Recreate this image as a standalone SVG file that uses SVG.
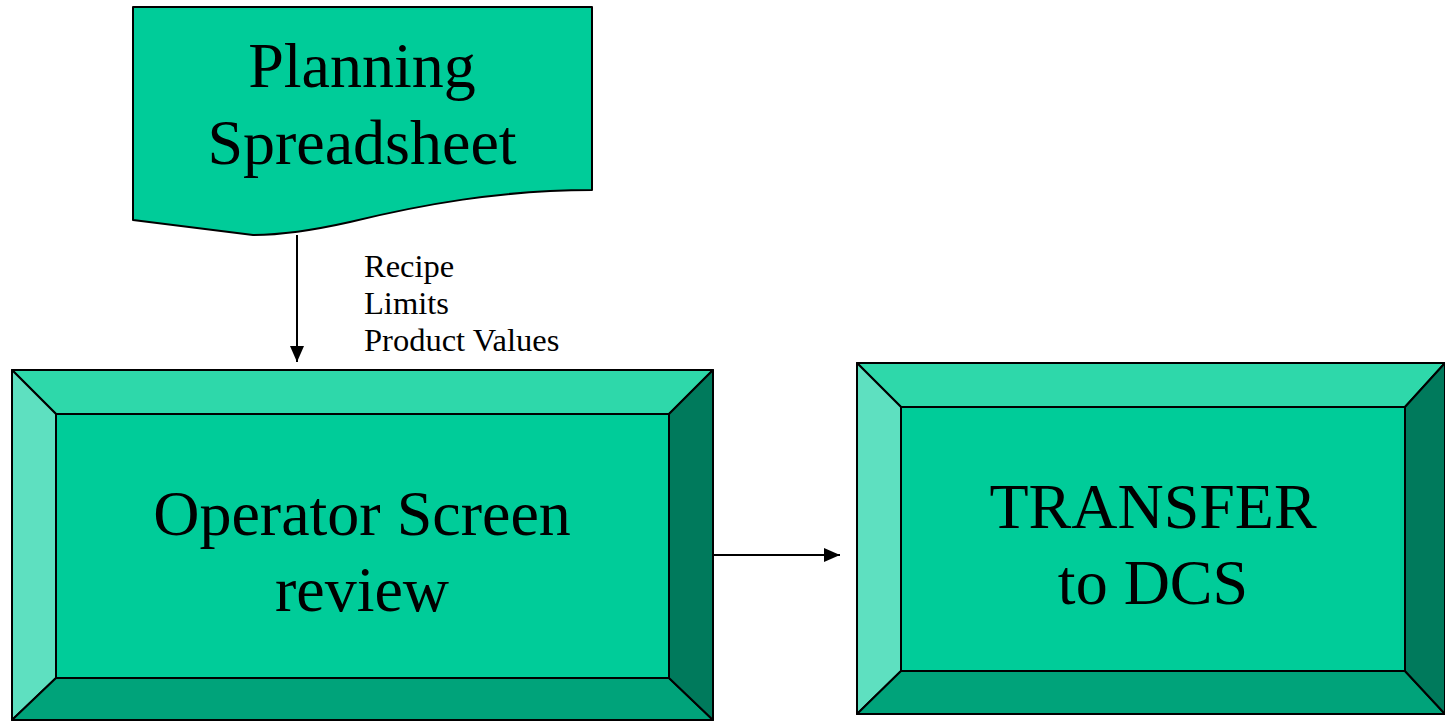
<svg xmlns="http://www.w3.org/2000/svg" width="1445" height="721" viewBox="0 0 1445 721">
<style>
.t{font-family:"Liberation Serif","Times New Roman",serif;fill:#000}
.big{font-size:64px;text-anchor:middle}
.lbl{font-size:32.5px}
.s{stroke:#000;stroke-width:2;stroke-linejoin:round}
.main{fill:#00CC99}
.top{fill:#2ED8AA}
.left{fill:#5EE0C0}
.bot{fill:#00A37A}
.right{fill:#007A5C}
</style>
<defs>
<marker id="ah2" viewBox="0 0 16 14" refX="16" refY="7" markerWidth="16" markerHeight="14" markerUnits="userSpaceOnUse" orient="auto">
<path d="M0,0 L16,7 L0,14 z" fill="#000"/>
</marker>
</defs>
<g id="planning">
<path class="s main" d="M133,7 L592,7 L592,190 C500,190 420,205 350,222 C310,231 280,235 253,235 L133,220 Z"/>
<text class="t big" x="362" y="87">Planning</text>
<text class="t big" x="362" y="164">Spreadsheet</text>
</g>
<g id="operator">
<polygon class="s top" points="12,370 713,370 669,414 56,414"/>
<polygon class="s left" points="12,370 56,414 56,678 12,720"/>
<polygon class="s bot" points="12,720 56,678 669,678 713,720"/>
<polygon class="s right" points="713,370 713,720 669,678 669,414"/>
<rect class="s main" x="56" y="414" width="613" height="264"/>
<text class="t big" x="362" y="535">Operator Screen</text>
<text class="t big" x="362" y="611">review</text>
</g>
<g id="transfer">
<polygon class="s top" points="857,363 1445,363 1405,407 901,407"/>
<polygon class="s left" points="857,363 901,407 901,671 857,714"/>
<polygon class="s bot" points="857,714 901,671 1405,671 1445,714"/>
<polygon class="s right" points="1445,363 1445,714 1405,671 1405,407"/>
<rect class="s main" x="901" y="407" width="504" height="264"/>
<text class="t big" x="1153" y="528">TRANSFER</text>
<text class="t big" x="1153" y="604">to DCS</text>
</g>
<g id="connectors" stroke="#000" stroke-width="2" fill="none">
<line x1="297" y1="235" x2="297" y2="362" marker-end="url(#ah2)"/>
<line x1="713" y1="555" x2="840" y2="555" marker-end="url(#ah2)"/>
</g>
<g id="labels">
<text class="t lbl" x="364" y="277">Recipe</text>
<text class="t lbl" x="364" y="314">Limits</text>
<text class="t lbl" x="364" y="351">Product Values</text>
</g>
</svg>
